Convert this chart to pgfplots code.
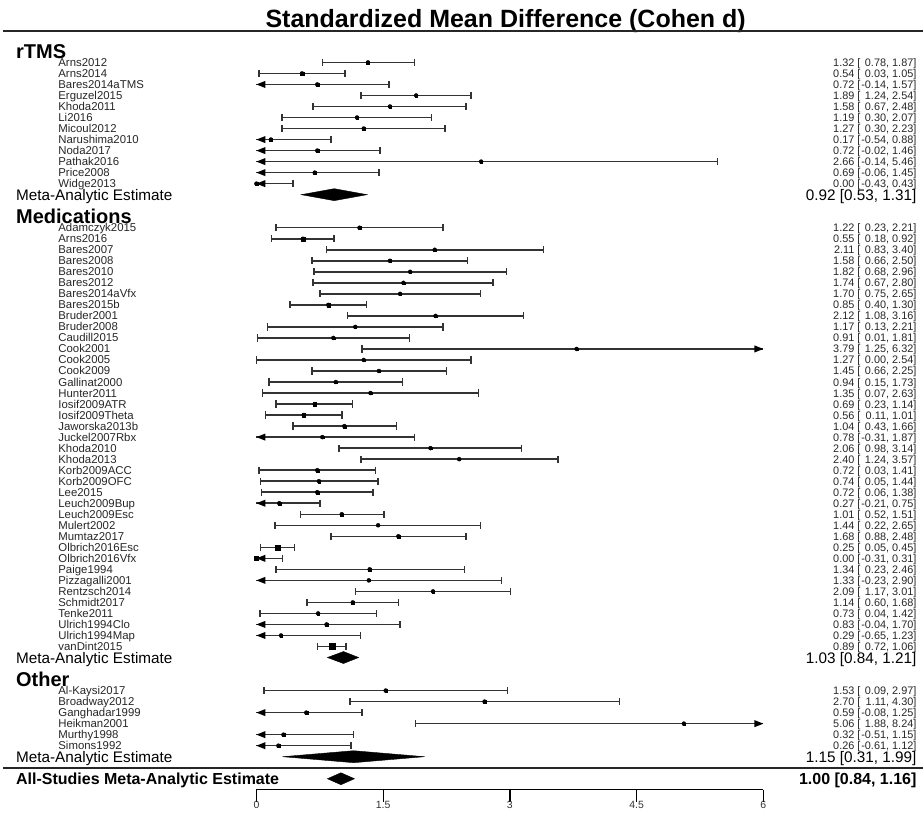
\documentclass[border=0pt]{standalone}
\usepackage{fontspec}
\setmainfont{Liberation Sans}
\usepackage{pgfplots}
\usepackage{pgfplotstable}
\pgfplotsset{compat=1.18}

\pgfdeclareplotmark{larr}{%
  \pgfpathmoveto{\pgfpointorigin}%
  \pgfpathlineto{\pgfpoint{9pt}{3.6pt}}%
  \pgfpathlineto{\pgfpoint{9pt}{-3.6pt}}%
  \pgfpathclose\pgfusepathqfill}
\pgfdeclareplotmark{rarr}{%
  \pgfpathmoveto{\pgfpointorigin}%
  \pgfpathlineto{\pgfpoint{-9pt}{3.6pt}}%
  \pgfpathlineto{\pgfpoint{-9pt}{-3.6pt}}%
  \pgfpathclose\pgfusepathqfill}

\newcommand\fstudy{\fontsize{11.4pt}{13pt}\selectfont}
\newcommand\fval{\fontsize{10.9pt}{13pt}\selectfont}
\newcommand\fmeta{\fontsize{15.3pt}{18pt}\selectfont}
\newcommand\fhead{\bfseries\fontsize{20pt}{23pt}\selectfont}
\newcommand\fall{\bfseries\fontsize{16pt}{19pt}\selectfont}
\newcommand\ftitle{\bfseries\fontsize{25pt}{29pt}\selectfont}

\pgfplotstableread{
y est lo hi s name
0 1.32 0.78 1.87 1.82 Arns2012
-1 0.54 0.03 1.05 1.87 Arns2014
-2 0.72 -0.14 1.57 1.54 Bares2014aTMS
-3 1.89 1.24 2.54 1.69 Erguzel2015
-4 1.58 0.67 2.48 1.51 Khoda2011
-5 1.19 0.30 2.07 1.52 Li2016
-6 1.27 0.30 2.23 1.48 Micoul2012
-7 0.17 -0.54 0.88 1.64 Narushima2010
-8 0.72 -0.02 1.46 1.61 Noda2017
-9 2.66 -0.14 5.46 1.19 Pathak2016
-10 0.69 -0.06 1.45 1.60 Price2008
-11 0.00 -0.43 0.43 2.02 Widge2013
-15 1.22 0.23 2.21 1.47 Adamczyk2015
-16 0.55 0.18 0.92 2.18 Arns2016
-17 2.11 0.83 3.40 1.37 Bares2007
-18 1.58 0.66 2.50 1.50 Bares2008
-19 1.82 0.68 2.96 1.41 Bares2010
-20 1.74 0.67 2.80 1.44 Bares2012
-21 1.70 0.75 2.65 1.49 Bares2014aVfx
-22 0.85 0.40 1.30 1.98 Bares2015b
-23 2.12 1.08 3.16 1.45 Bruder2001
-24 1.17 0.13 2.21 1.45 Bruder2008
-25 0.91 0.01 1.81 1.51 Caudill2015
-26 3.79 1.25 6.32 1.21 Cook2001
-27 1.27 0.00 2.54 1.37 Cook2005
-28 1.45 0.66 2.25 1.57 Cook2009
-29 0.94 0.15 1.73 1.58 Gallinat2000
-30 1.35 0.07 2.63 1.37 Hunter2011
-31 0.69 0.23 1.14 1.97 Iosif2009ATR
-32 0.56 0.11 1.01 1.98 Iosif2009Theta
-33 1.04 0.43 1.66 1.73 Jaworska2013b
-34 0.78 -0.31 1.87 1.43 Juckel2007Rbx
-35 2.06 0.98 3.14 1.43 Khoda2010
-36 2.40 1.24 3.57 1.40 Khoda2013
-37 0.72 0.03 1.41 1.65 Korb2009ACC
-38 0.74 0.05 1.44 1.65 Korb2009OFC
-39 0.72 0.06 1.38 1.68 Lee2015
-40 0.27 -0.21 0.75 1.92 Leuch2009Bup
-41 1.01 0.52 1.51 1.89 Leuch2009Esc
-42 1.44 0.22 2.65 1.39 Mulert2002
-43 1.68 0.88 2.48 1.57 Mumtaz2017
-44 0.25 0.05 0.45 3.15 Olbrich2016Esc
-45 0.00 -0.31 0.31 2.40 Olbrich2016Vfx
-46 1.34 0.23 2.46 1.42 Paige1994
-47 1.33 -0.23 2.90 1.31 Pizzagalli2001
-48 2.09 1.17 3.01 1.50 Rentzsch2014
-49 1.14 0.60 1.68 1.82 Schmidt2017
-50 0.73 0.04 1.42 1.65 Tenke2011
-51 0.83 -0.04 1.70 1.53 Ulrich1994Clo
-52 0.29 -0.65 1.23 1.49 Ulrich1994Map
-53 0.89 0.72 1.06 3.53 vanDint2015
-57 1.53 0.09 2.97 1.34 Al-Kaysi2017
-58 2.70 1.11 4.30 1.31 Broadway2012
-59 0.59 -0.08 1.25 1.68 Ganghadar1999
-60 5.06 1.88 8.24 1.18 Heikman2001
-61 0.32 -0.51 1.15 1.55 Murthy1998
-62 0.26 -0.61 1.12 1.53 Simons1992
}\studies

\begin{document}
\begin{tikzpicture}
\begin{axis}[
  scale only axis, width=507.3pt, height=790.5pt,
  xmin=0, xmax=6, ymin=-66, ymax=5.666,
  clip=false,
  axis y line=none,
  axis x line=bottom,
  x axis line style={-, line width=1.3pt, black},
  xtick={0,1.5,3,4.5,6},
  tick align=outside,
  major tick length=12pt,
  every tick/.style={black, line width=1.3pt},
  xticklabel style={font=\fontsize{10.5pt}{12pt}\selectfont, text=black!80, yshift=4pt},
  /pgf/number format/assume math mode=true,
]
% bounding box of the whole picture
\path (axis cs:-3.036,5.666) rectangle (axis cs:7.892,-70.49);

% title and rules
\node[anchor=base, font=\ftitle] at (axis cs:2.95,3.128) {Standardized Mean Difference (Cohen d)};
\draw[line width=1.8pt, black!85] (axis cs:-3.0,2.856) -- (axis cs:7.892,2.856);
\draw[line width=1.8pt, black!85] (axis cs:-3.0,-64) -- (axis cs:7.892,-64);

% CI lines
\addplot[only marks, mark=none,
  error bars/.cd, x dir=both, x explicit, error mark=none,
  error bar style={line width=1.5pt, black!80}]
  table[x=est, y=y,
    x error plus expr={min(\thisrow{hi},6)-\thisrow{est}},
    x error minus expr={\thisrow{est}-max(\thisrow{lo},0)}] {\studies};
% caps
\addplot[only marks, mark=|, mark size=3.6pt, black!80, mark options={line width=1.5pt},
  restrict x to domain=0:6] table[x=lo, y=y] {\studies};
\addplot[only marks, mark=|, mark size=3.6pt, black!80, mark options={line width=1.5pt},
  restrict x to domain=0:6] table[x=hi, y=y] {\studies};
% arrows
\addplot[only marks, mark=larr, black, restrict x to domain=-0.5:6.5]
  table[x expr={\thisrow{lo}<0 ? 0 : -1}, y=y] {\studies};
\addplot[only marks, mark=rarr, black, restrict x to domain=0:6.5]
  table[x expr={\thisrow{hi}>6 ? 6 : -1}, y=y] {\studies};
% point estimates
\addplot[scatter, only marks, mark=square*,
  scatter/use mapped color={draw=black, fill=black},
  mark options={line width=0.1pt},
  visualization depends on={0.85*\thisrow{s} \as \msize},
  scatter/@pre marker code/.append style={/tikz/mark size=\msize}]
  table[x=est, y=y] {\studies};

% study names
\addplot[only marks, mark=none, point meta=explicit symbolic,
  nodes near coords={\pgfplotspointmeta},
  nodes near coords style={anchor=base west, inner sep=0pt, font=\fstudy, yshift=-4pt, text=black!85}]
  table[x expr=-2.347, y=y, meta=name] {\studies};
% right-hand values: estimate and bracket, lower bound, upper bound
\addplot[only marks, mark=none, point meta=explicit symbolic,
  nodes near coords={\pgfplotspointmeta\ [},
  nodes near coords style={anchor=base east, inner sep=0pt, font=\fval, yshift=-4pt, text=black!85}]
  table[x expr=7.1527, y=y, meta=est] {\studies};
\addplot[only marks, mark=none, point meta=explicit symbolic,
  nodes near coords={\pgfplotspointmeta,},
  nodes near coords style={anchor=base east, inner sep=0pt, font=\fval, yshift=-4pt, text=black!85}]
  table[x expr=7.4925, y=y, meta=lo] {\studies};
\addplot[only marks, mark=none, point meta=explicit symbolic,
  nodes near coords={\pgfplotspointmeta]},
  nodes near coords style={anchor=base east, inner sep=0pt, font=\fval, yshift=-4pt, text=black!85}]
  table[x expr=7.815, y=y, meta=hi] {\studies};

% summary diamonds
\addplot[fill=black, draw=black, line width=0.4pt] coordinates {(0.53,-12) (0.92,-11.456) (1.31,-12) (0.92,-12.544)} --cycle;
\addplot[fill=black, draw=black, line width=0.4pt] coordinates {(0.84,-54) (1.03,-53.456) (1.21,-54) (1.03,-54.544)} --cycle;
\addplot[fill=black, draw=black, line width=0.4pt] coordinates {(0.31,-63) (1.15,-62.456) (1.99,-63) (1.15,-63.544)} --cycle;
\addplot[fill=black, draw=black, line width=0.4pt] coordinates {(0.84,-65) (1.00,-64.456) (1.16,-65) (1.00,-65.544)} --cycle;

% group headers
\node[anchor=base west, inner sep=0pt, font=\fhead, yshift=-7.2pt] at (axis cs:-2.847,1) {rTMS};
\node[anchor=base west, inner sep=0pt, font=\fhead, yshift=-7.2pt] at (axis cs:-2.847,-14) {Medications};
\node[anchor=base west, inner sep=0pt, font=\fhead, yshift=-7.2pt] at (axis cs:-2.847,-56) {Other};

% summary labels
\node[anchor=base west, inner sep=0pt, font=\fmeta, yshift=-5.5pt] at (axis cs:-2.847,-12) {Meta-Analytic Estimate};
\node[anchor=base west, inner sep=0pt, font=\fmeta, yshift=-5.5pt] at (axis cs:-2.847,-54) {Meta-Analytic Estimate};
\node[anchor=base west, inner sep=0pt, font=\fmeta, yshift=-5.5pt] at (axis cs:-2.847,-63) {Meta-Analytic Estimate};
\node[anchor=base west, inner sep=0pt, font=\fall, yshift=-5.7pt] at (axis cs:-2.847,-65) {All-Studies Meta-Analytic Estimate};
\node[anchor=base east, inner sep=0pt, font=\fmeta, yshift=-5.5pt] at (axis cs:7.815,-12) {0.92 [0.53, 1.31]};
\node[anchor=base east, inner sep=0pt, font=\fmeta, yshift=-5.5pt] at (axis cs:7.815,-54) {1.03 [0.84, 1.21]};
\node[anchor=base east, inner sep=0pt, font=\fmeta, yshift=-5.5pt] at (axis cs:7.815,-63) {1.15 [0.31, 1.99]};
\node[anchor=base east, inner sep=0pt, font=\fall, yshift=-5.7pt] at (axis cs:7.815,-65) {1.00 [0.84, 1.16]};
\end{axis}
\end{tikzpicture}
\end{document}
